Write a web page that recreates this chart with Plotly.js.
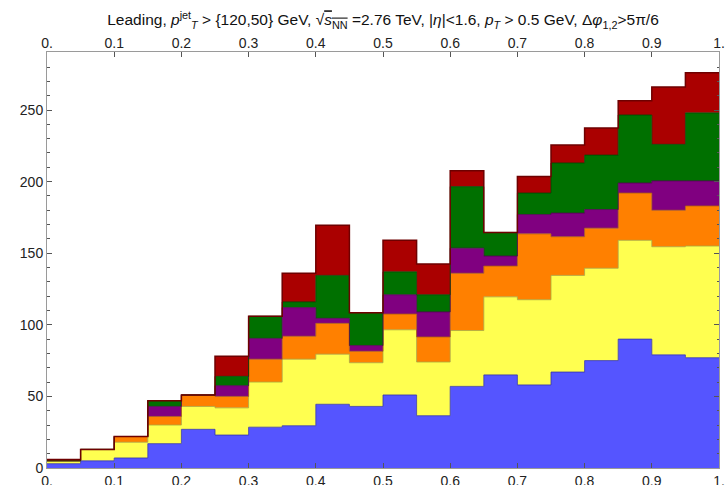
<!DOCTYPE html>
<html>
<head>
<meta charset="utf-8">
<script src="https://cdn.plot.ly/plotly-3.0.1.min.js"></script>
<style>
  html, body { margin: 0; padding: 0; background: #ffffff; }
  #chart { width: 728px; height: 485px; }
</style>
</head>
<body>
<div id="chart"></div>
<script>
// Bin edges of the histogram (20 bins of width 0.05)
const binEdges = [0, 0.05, 0.1, 0.15, 0.2, 0.25, 0.3, 0.35, 0.4, 0.45, 0.5,
                  0.55, 0.6, 0.65, 0.7, 0.75, 0.8, 0.85, 0.9, 0.95, 1.0];

// Per-bin contribution of each stacked component (bottom to top)
const blueCounts   = [3, 5, 7, 17, 27, 23, 28.5, 29.5, 44.5, 43, 51, 36.5, 57, 65, 58, 67, 75, 90, 79, 77];
const yellowCounts = [2, 8, 11, 13, 16, 19, 31.5, 46.5, 35, 30.5, 45.5, 37.5, 39, 54.5, 59.5, 67.5, 64.5, 69, 75.5, 78];
const orangeCounts = [0, 0, 4, 6, 8, 8, 16, 16, 21.5, 8, 11, 17.5, 40, 21.5, 46, 27, 28, 33, 25.5, 28];
const purpleCounts = [0, 0, 0, 7, 0, 7.5, 14.5, 20, 3.5, 4, 13.5, 17.5, 17.5, 7, 13.5, 16.5, 13, 7, 20.5, 17.5];
const greenCounts  = [0, 0, 0, 4, 0, 6.5, 15.5, 4, 30, 23, 16, 12, 43, 16.5, 15, 35, 38, 47.5, 25.5, 47.5];
const redCounts    = [1, 0, 0, 0, 0, 14, 0, 20, 35, 0, 22, 21.5, 11, 0, 11.5, 12.5, 19, 10, 40, 28];

// Axis ticks
const xTickVals = [0, 0.1, 0.2, 0.3, 0.4, 0.5, 0.6, 0.7, 0.8, 0.9, 1.0];
const xTickText = ["0.", "0.1", "0.2", "0.3", "0.4", "0.5", "0.6", "0.7", "0.8", "0.9", "1."];

const layers = [
  { y: blueCounts,   fill: '#5555ff', edge: 'rgba(50,50,170,0.8)',  width: 1 },
  { y: yellowCounts, fill: '#ffff50', edge: 'rgba(170,170,60,0.8)', width: 1 },
  { y: orangeCounts, fill: '#ff8000', edge: 'rgba(170,90,20,0.8)',  width: 1 },
  { y: purpleCounts, fill: '#800080', edge: 'rgba(80,0,80,0.8)',    width: 1 },
  { y: greenCounts,  fill: '#007000', edge: 'rgba(0,70,0,0.8)',     width: 1 },
  { y: redCounts,    fill: '#aa0000', edge: '#6e0000',              width: 1.5 }
];

// Step histogram: repeat the final bin value so the last step reaches x = 1
function closeSteps(values) {
  return values.concat([values[values.length - 1]]);
}

const traces = layers.map(layer => ({
  type: 'scatter',
  mode: 'lines',
  x: binEdges,
  y: closeSteps(layer.y),
  stackgroup: 'stack',
  fillcolor: layer.fill,
  line: { shape: 'hv', width: layer.width, color: layer.edge },
  hoverinfo: 'skip',
  showlegend: false
}));

// Empty trace that carries the top axis
traces.push({
  type: 'scatter', mode: 'lines', x: [], y: [],
  xaxis: 'x2', yaxis: 'y', hoverinfo: 'skip', showlegend: false
});

const tickFont = { family: 'Liberation Sans, Arial, sans-serif', size: 14, color: '#222222' };
const frameColor = '#9a9a9a';
const tickColor = '#555555';

const layout = {
  width: 728,
  height: 485,
  margin: { l: 47, r: 9, t: 52, b: 17 },
  paper_bgcolor: '#ffffff',
  plot_bgcolor: '#ffffff',
  font: tickFont,
  title: {
    text: 'Leading, <i>p</i><sup>jet</sup><sub><i>T</i></sub> &gt; {120,50} GeV, √<span style="text-decoration:overline"><i>s</i><sub>NN</sub></span> =2.76 TeV, |<i>η</i>|&lt;1.6, <i>p</i><sub><i>T</i></sub> &gt; 0.5 GeV, Δ<i>φ</i><sub>1,2</sub>&gt;5π/6',
    font: { family: 'Liberation Sans, Arial, sans-serif', size: 15.5, color: '#111111' },
    xref: 'paper', x: 0.5, xanchor: 'center',
    yref: 'container', y: 0.959, yanchor: 'middle'
  },
  xaxis: {
    range: [0, 1],
    tickmode: 'array', tickvals: xTickVals, ticktext: xTickText,
    ticks: 'inside', ticklen: 5, tickcolor: tickColor,
    showline: true, linecolor: frameColor, linewidth: 1, mirror: true,
    showgrid: false, zeroline: false, tickfont: tickFont
  },
  xaxis2: {
    overlaying: 'x', side: 'top', anchor: 'y',
    range: [0, 1],
    tickmode: 'array', tickvals: xTickVals, ticktext: xTickText,
    ticks: 'inside', ticklen: 5, tickcolor: tickColor,
    showline: false, showgrid: false, zeroline: false, tickfont: tickFont
  },
  yaxis: {
    range: [0, 290.5],
    tickmode: 'linear', tick0: 0, dtick: 50,
    ticks: 'inside', ticklen: 5, tickcolor: tickColor,
    minor: { dtick: 10, tick0: 0, ticks: 'inside', ticklen: 2.5, tickcolor: tickColor, showgrid: false },
    showline: true, linecolor: frameColor, linewidth: 1, mirror: 'ticks',
    showgrid: false, zeroline: false, tickfont: tickFont
  }
};

Plotly.newPlot('chart', traces, layout, { staticPlot: true, displayModeBar: false });
</script>
</body>
</html>
